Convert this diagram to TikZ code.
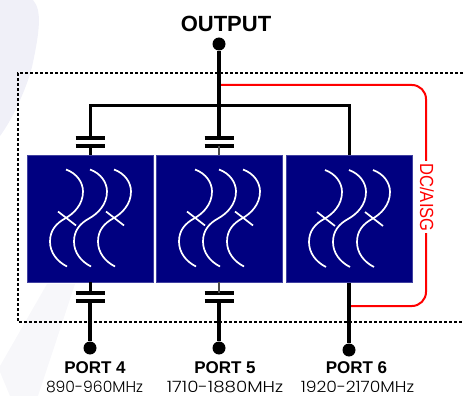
\documentclass[tikz,border=0pt]{standalone}
\usepackage{fontspec}
\setmainfont{Liberation Sans}
\newfontfamily\bandfont{Poppins Light}
\usetikzlibrary{positioning}

\definecolor{filterblue}{RGB}{0,0,128}
\definecolor{markshade}{RGB}{240,240,248}
\definecolor{markfaint}{RGB}{247,247,250}

\tikzset{
  filterbox/.style={fill=filterblue,draw=filterblue!75!white,line width=.5pt,minimum width=126pt,minimum height=127pt,inner sep=0pt},
  terminal/.style={circle,fill=black,draw=none,minimum size=13pt,inner sep=0pt},
  wire/.style={draw=black,line width=4pt},
  thinwire/.style={draw=black,line width=3pt},
  stubwire/.style={draw=black!70,line width=2.4pt},
  redwire/.style={draw=red,line width=2pt,rounded corners=14pt},
  plate/.style={draw=black,line width=3.6pt},
  resonator/.style={draw=white,line width=1.7pt},
  portname/.style={font=\bfseries\fontsize{17}{19}\selectfont,inner sep=0pt},
  portband/.style={font=\bandfont\fontsize{15.6}{17}\selectfont,inner sep=0pt}
}

% three coupled resonators, origin at the box centre
\newcommand{\filtersymbol}[1]{
  \begin{scope}[shift={(#1)}]
    \foreach \dx in {-24,0,24}
      \draw[resonator,xshift=\dx pt] (0,-49) .. controls (11,-45) and (17,-36) .. (17,-27)
                       .. controls (17,-14) and (8,-5) .. (-1,0)
                       .. controls (-10,5) and (-16,12) .. (-16,23)
                       .. controls (-16,34) and (-9,43) .. (1,48);
    \foreach \dx in {-24,24}
      \draw[resonator,xshift=\dx pt] (-8,-7) -- (10,7);
  \end{scope}
}
\begin{document}
\begin{tikzpicture}[x=1pt,y=-1pt]
  \useasboundingbox (0,0) rectangle (464,396);

  % faint watermark
  \fill[markshade] (0,0) -- (33,0) .. controls (42,10) and (40,30) .. (32,67)
                   .. controls (26,90) and (12,120) .. (0,136) -- cycle;
  \fill[markfaint] (47,284) -- (75,284) -- (38,396) -- (10,396) -- (0,372) -- (0,366) -- cycle;

  % dashed module outline
  \draw[line width=1.3pt,dash pattern=on 3pt off 2pt] (463,73) -- (18,73) -- (18,322) -- (463,322);

  % filters
  \node[filterbox] (F4) at (90,218.5)  {};
  \node[filterbox] (F5) at (219,218.5) {};
  \node[filterbox] (F6) at (349,219) {};
  \filtersymbol{F4}
  \filtersymbol{F5}
  \filtersymbol{F6}

  \node[terminal] (OUT) at (219,44) {};
  \node[terminal] (P4)  at (90,348) {};
  \node[terminal] (P5)  at (219,348) {};
  \node[terminal] (P6)  at (349,350) {};

  \coordinate (T4) at (90,138);
  \coordinate (T5) at (219,138);
  \coordinate (B4) at (90,293);
  \coordinate (B5) at (219,293);

  % red bias line
  \draw[redwire] (219,85) -- (426,85) -- (426,161);
  \draw[redwire] (426,233) -- (426,306) -- (349,306);
  \node[red,rotate=-90,xscale=.87,font=\fontsize{19}{21}\selectfont,inner sep=0pt] (DC) at (427,197.5) {DC/AISG};

  % feed lines
  \draw[wire] (OUT) -- (T5);
  \draw[thinwire] (T4) |- (219,106) -| (F6.north);
  \draw[wire] (F6.south) -- (P6);
  \draw[wire] ([yshift=-8pt]B4) -- (P4);
  \draw[wire] ([yshift=-8pt]B5) -- (P5);

  % coupling capacitors
  \foreach \name in {T4,T5,B4,B5} {
    \draw[plate] ([xshift=-14.5pt]\name) -- ([xshift=14.5pt]\name);
    \draw[plate] ([xshift=-14.5pt,yshift=-8pt]\name) -- ([xshift=14.5pt,yshift=-8pt]\name);
  }
  \draw[thinwire] ([yshift=-8pt]T4) -- (F4.north);
  \draw[stubwire] ([yshift=-8pt]T5) -- (F5.north);
  \draw[thinwire] (F4.south) -- (B4);
  \draw[stubwire] (F5.south) -- (B5);

  % labels
  \node[font=\bfseries\fontsize{22}{24}\selectfont,inner sep=0pt] (OUTL) at (226,23.5) {OUTPUT};
  \node[portname] (L4) at (95,368) {PORT 4};
  \node[portname] (L5) at (225,368) {PORT 5};
  \node[portname] (L6) at (356.5,368) {PORT 6};
  \node[portband] (B4L) at (94.5,386.5) {890-960MHz};
  \node[portband,xscale=1.17] (B5L) at (225,386.5) {1710-1880MHz};
  \node[portband,xscale=1.1] (B6L) at (357.5,386.5) {1920-2170MHz};
\end{tikzpicture}
\end{document}
